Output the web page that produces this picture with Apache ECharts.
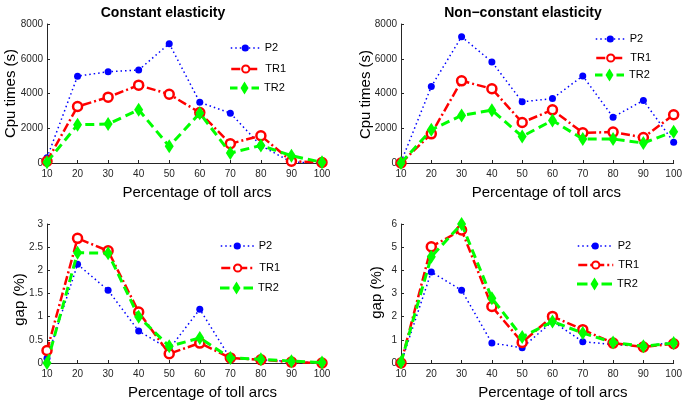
<!DOCTYPE html>
<html>
<head>
<meta charset="utf-8">
<script src="https://cdn.jsdelivr.net/npm/echarts@6/dist/echarts.min.js"></script>
<style>html,body{margin:0;padding:0;background:#fff;}#c{width:685px;height:402px;}</style>
</head>
<body>
<div id="c"></div>
<script>
const xVals = [10, 20, 30, 40, 50, 60, 70, 80, 90, 100];
const seriesNames = ['P2', 'TR1', 'TR2'];
const panelTitles = ['Constant elasticity', 'Non\u2212constant elasticity'];
const xName = 'Percentage of toll arcs';
const yNames = ['Cpu times (s)', 'Cpu times (s)', 'gap (%)', 'gap (%)'];

const cpuConstP2  = [300, 5000, 5250, 5350, 6870, 3500, 2870, 1000, 50, 0];
const cpuConstTR1 = [100, 3250, 3790, 4480, 3960, 2900, 1110, 1570, 100, 30];
const cpuConstTR2 = [50, 2200, 2240, 3060, 960, 2870, 570, 1010, 420, 40];

const cpuNonP2  = [50, 4400, 7270, 5820, 3520, 3710, 5010, 2640, 3600, 1200];
const cpuNonTR1 = [0, 1680, 4730, 4270, 2330, 3060, 1740, 1780, 1470, 2780];
const cpuNonTR2 = [0, 1910, 2740, 3040, 1530, 2450, 1380, 1380, 1150, 1800];

const gapConstP2  = [0.1, 2.13, 1.57, 0.69, 0.3, 1.16, 0.1, 0.07, 0.03, 0];
const gapConstTR1 = [0.27, 2.69, 2.42, 1.1, 0.2, 0.43, 0.11, 0.07, 0.02, 0];
const gapConstTR2 = [0.0, 2.38, 2.37, 1.0, 0.36, 0.54, 0.11, 0.08, 0.04, 0.01];

const gapNonP2  = [0.0, 3.93, 3.14, 0.86, 0.66, 1.8, 0.92, 0.8, 0.72, 0.9];
const gapNonTR1 = [0, 5.02, 5.74, 2.44, 0.89, 2.01, 1.44, 0.86, 0.69, 0.83];
const gapNonTR2 = [0.03, 4.59, 6.0, 2.8, 1.12, 1.79, 1.29, 0.89, 0.72, 0.86];

const yMax = [8000, 8000, 3, 6];
const yInterval = [2000, 2000, 0.5, 1];

const panelData = [
  [cpuConstP2, cpuConstTR1, cpuConstTR2],
  [cpuNonP2, cpuNonTR1, cpuNonTR2],
  [gapConstP2, gapConstTR1, gapConstTR2],
  [gapNonP2, gapNonTR1, gapNonTR2]
];

const FONT = '"Liberation Sans", Arial, Helvetica, sans-serif';
const grids = [
  {left: 47, top: 24, width: 275, height: 139},
  {left: 401, top: 24, width: 276, height: 139},
  {left: 47, top: 224, width: 275, height: 139},
  {left: 401, top: 224, width: 276, height: 139}
];
const xNameShift = [25, 18, 36, 31];
const yNameGap = [29, 28, 20, 17];
const yNamePad = [[0, 0, 0, 0], [0, 2, 0, 0], [0, 12, 0, 0], [0, 0, 0, 2]];
// legend layout: left of icon, icon width, centre y of each item
const legendLeft = [230, 595, 220, 577];
const legendIconW = [29, 29, 33, 35];
const legendCY = [[47, 68, 88], [38, 57, 75], [245, 267, 288], [245, 264, 284]];
const legendIconH = [9, 9, 13];

const DIAMOND = 'path://M4,0L8,6.5L4,13L0,6.5Z';
function dashedDiamondIcon(w) {
  const c = w / 2;
  return 'path://M0,5H' + (c - 7) + 'V8H0Z' +
         'M' + (c - 4) + ',6.5L' + c + ',0L' + (c + 4) + ',6.5L' + c + ',13Z' +
         'M' + (c + 7) + ',5H' + w + 'V8H' + (c + 7) + 'Z';
}
const styles = [
  {color: '#0000ff', symbol: 'circle', symbolSize: 7, lineType: [1.5, 3], lineWidth: 1.5, hollow: false},
  {color: '#ff0000', symbol: 'circle', symbolSize: 9, lineType: [9, 3, 2, 3], lineWidth: 2.5, hollow: true},
  {color: '#00ff00', symbol: DIAMOND, symbolSize: [9, 14], lineType: [9, 5], lineWidth: 3, hollow: false}
];

const axisLineStyle = {color: '#262626', width: 1};
const xAxes = [], yAxes = [], series = [], legends = [];
for (let p = 0; p < 4; p++) {
  xAxes.push({
    type: 'value', gridIndex: p, min: 10, max: 100, interval: 10,
    name: xName, nameLocation: 'middle', nameGap: 22, nameMoveOverlap: false,
    nameTextStyle: {fontFamily: FONT, fontSize: 15, color: '#000', padding: [0, 0, 0, xNameShift[p]]},
    axisLine: {show: true, lineStyle: axisLineStyle},
    axisTick: {show: true, inside: true, length: 3, lineStyle: axisLineStyle},
    axisLabel: {fontFamily: FONT, fontSize: 10, color: '#262626', margin: 6},
    splitLine: {show: false}
  });
  yAxes.push({
    type: 'value', gridIndex: p, min: 0, max: yMax[p], interval: yInterval[p],
    name: yNames[p], nameLocation: 'middle', nameGap: yNameGap[p], nameMoveOverlap: false,
    nameTextStyle: {fontFamily: FONT, fontSize: 15, color: '#000', padding: yNamePad[p]},
    axisLine: {show: true, lineStyle: axisLineStyle},
    axisTick: {show: true, inside: true, length: 3, lineStyle: axisLineStyle},
    axisLabel: {fontFamily: FONT, fontSize: 10, color: '#262626', margin: 4,
                formatter: v => String(v)},
    splitLine: {show: false}
  });
  for (let s = 0; s < 3; s++) {
    const st = styles[s];
    series.push({
      type: 'line', name: seriesNames[s], xAxisIndex: p, yAxisIndex: p,
      data: xVals.map((x, i) => [x, panelData[p][s][i]]),
      symbol: st.symbol, symbolSize: st.symbolSize, showSymbol: true,
      lineStyle: {color: st.color, width: st.lineWidth, type: st.lineType},
      itemStyle: st.hollow ? {color: '#ffffff', borderColor: st.color, borderWidth: 2.5}
                           : {color: st.color, borderColor: st.color, borderWidth: 0},
      z: 2 + s, animation: false, silent: true
    });
    const item = s === 2
      ? {name: seriesNames[s], icon: dashedDiamondIcon(legendIconW[p]), itemStyle: {color: st.color}}
      : {name: seriesNames[s]};
    legends.push({
      orient: 'vertical', left: legendLeft[p], top: legendCY[p][s] - legendIconH[s] / 2,
      itemWidth: legendIconW[p], itemHeight: legendIconH[s],
      data: [item], selectedMode: false, padding: 0,
      symbolKeepAspect: true,
      lineStyle: {type: st.lineType, width: st.lineWidth},
      textStyle: {fontFamily: FONT, fontSize: 11, color: '#000'}
    });
  }
}

const chart = echarts.init(document.getElementById('c'), null, {renderer: 'canvas'});
chart.setOption({
  backgroundColor: '#ffffff',
  animation: false,
  title: [
    {text: panelTitles[0], left: 158, top: 1, textAlign: 'center',
     textStyle: {fontFamily: FONT, fontSize: 14, fontWeight: 'bold', color: '#000'}},
    {text: panelTitles[1], left: 518, top: 1, textAlign: 'center',
     textStyle: {fontFamily: FONT, fontSize: 14, fontWeight: 'bold', color: '#000'}}
  ],
  grid: grids,
  xAxis: xAxes,
  yAxis: yAxes,
  legend: legends,
  series: series
});
</script>
</body>
</html>
